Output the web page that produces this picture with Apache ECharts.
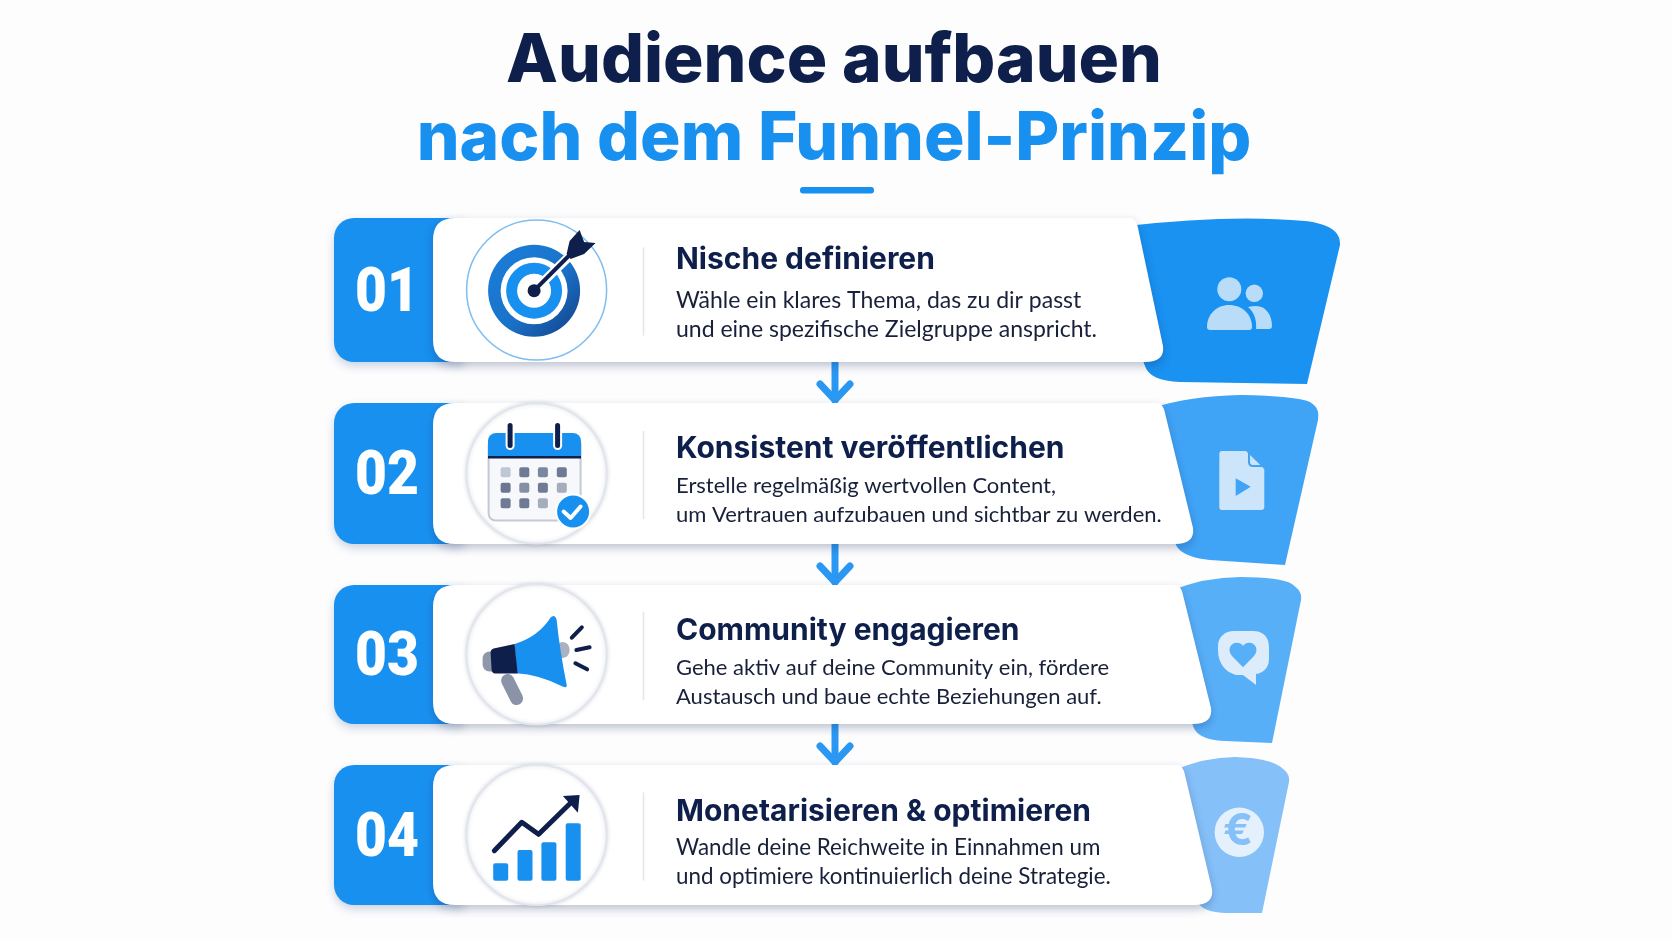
<!DOCTYPE html>
<html>
<head>
<meta charset="UTF-8">
<title>Audience aufbauen</title>
<script src="https://cdn.jsdelivr.net/npm/echarts@6/dist/echarts.min.js"></script>
<style>
html, body { margin: 0; padding: 0; background: #fdfdfe; }
#main { width: 1672px; height: 941px; }
</style>
</head>
<body>
<div id="main"></div>
<script>
// content
var titleLine1 = 'Audience aufbauen';
var titleLine2 = 'nach dem Funnel-Prinzip';
var stepNumbers = ['01', '02', '03', '04'];
var stepTitles = ['Nische definieren', 'Konsistent veröffentlichen', 'Community engagieren', 'Monetarisieren & optimieren'];
var stepLine1 = [
  'Wähle ein klares Thema, das zu dir passt',
  'Erstelle regelmäßig wertvollen Content,',
  'Gehe aktiv auf deine Community ein, fördere',
  'Wandle deine Reichweite in Einnahmen um'
];
var stepLine2 = [
  'und eine spezifische Zielgruppe anspricht.',
  'um Vertrauen aufzubauen und sichtbar zu werden.',
  'Austausch und baue echte Beziehungen auf.',
  'und optimiere kontinuierlich deine Strategie.'
];

// layout of the four rows, in page pixels
var BLUE = '#1890f0', NAVY = '#0e1f4b', GREY = '#8a93a8';
var rowTop = [218, 403, 585, 765];
var rowBottom = [362, 544, 724, 905];
var cardTopRight = [1130, 1157, 1175, 1177];
var cardBottomRight = [1163, 1193, 1211, 1212];
var titleY = [260, 449, 631, 812];
var bodyY = [301, 486, 668, 848];
var bodyFont = [23, 22, 22, 22.4];
var funnelColor = ['#1992f2', '#3fa3f6', '#57aff8', '#85c0f9'];
var funnelPath = [
  'M1127,226 Q1230,214 1305,221 C1330,224 1341,232 1340,245 L1307,384 L1180,382 C1160,381 1148,376 1145,366 L1120,300 Z',
  'M1152,408 Q1190,396 1240,395 Q1296,396 1310,402 C1318,407 1319,412 1318,420 L1285,565 L1210,560 C1190,558 1177,552 1175,542 L1150,480 Z',
  'M1170,591 Q1205,577 1240,577 Q1280,577 1292,584 C1300,590 1302,594 1301,600 L1272,743 L1225,741 C1205,740 1194,735 1192,722 L1160,650 Z',
  'M1172,771 Q1205,757 1235,757 Q1270,758 1282,768 C1287,772 1290,776 1289,782 L1262,913 L1225,913 C1215,912 1205,912 1198,903 L1160,830 Z'
];

function cardPath(i) {
  var t = rowTop[i], b = rowBottom[i], tr = cardTopRight[i], br = cardBottomRight[i];
  return 'M455,' + t + ' L' + tr + ',' + t + ' Q' + (tr + 6) + ',' + t + ' ' + (tr + 8) + ',' + (t + 10) +
    ' L' + br + ',' + (b - 16) + ' Q' + (br + 2) + ',' + b + ' ' + (br - 18) + ',' + b +
    ' L455,' + b + ' Q433,' + b + ' 433,' + (b - 22) + ' L433,' + (t + 22) + ' Q433,' + t + ' 455,' + t + ' Z';
}

function line(x1, y1, x2, y2, color, w) {
  return { type: 'line', shape: { x1: x1, y1: y1, x2: x2, y2: y2 }, style: { stroke: color, lineWidth: w, lineCap: 'round' } };
}
function rect(x, y, w, h, r, color) {
  return { type: 'rect', shape: { x: x, y: y, width: w, height: h, r: r }, style: { fill: color } };
}
function circle(cx, cy, r, color) {
  return { type: 'circle', shape: { cx: cx, cy: cy, r: r }, style: { fill: color } };
}
function poly(points, color) {
  return { type: 'polygon', shape: { points: points }, style: { fill: color } };
}

// icons inside the white circles, relative to circle centre
function targetIcon() {
  var cx = -2.5, cy = 0.7;
  return [
    { type: 'ring', shape: { cx: cx, cy: cy, r: 46, r0: 33.5 }, style: {
      fill: { type: 'linear', x: 0, y: 0, x2: 1, y2: 1, colorStops: [{ offset: 0, color: '#1a7fdc' }, { offset: 0.55, color: '#1a72c8' }, { offset: 1, color: '#123f86' }] }
    } },
    { type: 'ring', shape: { cx: cx, cy: cy, r: 28, r0: 17 }, style: { fill: BLUE } },
    line(cx, cy, 36, -37, '#fff', 9),
    line(cx, cy, 38, -40, NAVY, 4),
    circle(cx, cy, 6.5, NAVY),
    poly([[33, -49], [43, -60], [47.5, -48], [59, -47], [47.5, -36], [34, -31], [30, -36]], NAVY)
  ];
}

function calendarIcon() {
  var cols = [-31, -12.3, 6.3, 25.2], rows = [-1.2, 14.2, 29.8];
  var colors = [
    ['#bfc6d4', '#6f7a95', '#7a87a0', '#6f7a95'],
    ['#6b7690', '#858fa6', '#6f7a95', '#a5adbd'],
    ['#6f7a95', '#6f7a95', '#a5adbd', null]
  ];
  var out = [
    { type: 'rect', shape: { x: -48, y: -30, width: 92, height: 77, r: [0, 0, 7, 7] }, style: { fill: '#f7f8fb', stroke: '#c4c9d4', lineWidth: 2 } },
    rect(-48.6, -40.5, 93, 24, [8, 8, 0, 0], BLUE),
    rect(-48.6, -17.5, 93, 2.5, 0, NAVY),
    line(-26.5, -48, -26.5, -28, '#fff', 9),
    line(21, -48, 21, -28, '#fff', 9),
    line(-26.5, -48, -26.5, -28, NAVY, 5),
    line(21, -48, 21, -28, NAVY, 5)
  ];
  rows.forEach(function (y, r) {
    cols.forEach(function (x, c) {
      if (colors[r][c]) out.push(rect(x - 5, y - 5, 10, 10, 2, colors[r][c]));
    });
  });
  out.push({ type: 'circle', shape: { cx: 36.5, cy: 38, r: 17 }, style: { fill: BLUE, stroke: '#fff', lineWidth: 2 } });
  out.push({ type: 'polyline', shape: { points: [[27, 38], [34, 44.5], [44, 33]] }, style: { stroke: '#fff', fill: null, lineWidth: 4, lineCap: 'round', lineJoin: 'round' } });
  return out;
}

function megaphoneIcon() {
  return [
    line(-29, 26, -20, 44, GREY, 13),
    rect(-54, -3, 16, 20, 7, '#8f97aa'),
    { type: 'ellipse', shape: { cx: 26, cy: -4.5, rx: 7, ry: 8 }, style: { fill: '#a9b1c2' } },
    { type: 'path', shape: { pathData: 'M-22,-10.5 Q2,-18 14,-37 Q18,-41 20,-35 Q23,-5 30,30 Q31,34 26,32 Q2,20 -20,18.8 Z' }, style: { fill: BLUE } },
    { type: 'path', shape: { pathData: 'M-46,-2 Q-46,-5 -43,-6 L-22,-10.5 L-19,19 L-42,19 Q-45,18 -45,15 Z' }, style: { fill: NAVY } },
    line(35.2, -16.8, 45.2, -27.2, NAVY, 4),
    line(39.8, -4.5, 53, -7.2, NAVY, 4),
    line(38.8, 8.8, 50.5, 14.8, NAVY, 4)
  ];
}

function growthIcon() {
  return [
    rect(-43.4, 28.3, 15, 17.4, 2, BLUE),
    rect(-19.1, 15, 15, 30.7, 2, BLUE),
    rect(4.8, 7.3, 15, 38.4, 2, BLUE),
    rect(29.1, -11.7, 15, 57.4, 2, BLUE),
    { type: 'polyline', shape: { points: [[-42.3, 15.7], [-14.8, -12.7], [2, -0.7], [35, -33]] }, style: { stroke: NAVY, fill: null, lineWidth: 5, lineCap: 'round', lineJoin: 'round' } },
    poly([[26.3, -39], [43, -40], [41.3, -22.3]], NAVY)
  ];
}

// white glyphs on the funnel pieces, absolute page pixels
function usersIcon() {
  var c = '#b9dcf9';
  return [
    circle(1229.3, 289.3, 12, c),
    circle(1254.3, 293.3, 8.7, c),
    { type: 'path', shape: { pathData: 'M1207,327 C1207,314 1217,305 1229,305 C1242,305 1252,314 1252,327 Q1252,330 1249,330 L1210,330 Q1207,330 1207,327 Z' }, style: { fill: c } },
    { type: 'path', shape: { pathData: 'M1248,307 Q1252,306 1256,306 C1266,306 1272,315 1272,326 Q1272,329 1269,329 L1256,329 C1257,320 1254,312 1248,307 Z' }, style: { fill: c } }
  ];
}
function fileIcon() {
  var c = '#cde5fb';
  return [
    { type: 'path', shape: { pathData: 'M1222,451 L1246,451 L1264.3,469 L1264.3,507 Q1264.3,510 1261,510 L1222,510 Q1219.3,510 1219.3,507 L1219.3,454 Q1219.3,451 1222,451 Z' }, style: { fill: c } },
    { type: 'path', shape: { pathData: 'M1249,451 L1249,462 Q1249,466 1253,466 L1264,466' }, style: { stroke: funnelColor[1], fill: null, lineWidth: 2 } },
    poly([[1235.7, 478.3], [1250.7, 486.7], [1235.7, 496]], funnelColor[1])
  ];
}
function heartIcon() {
  var c = '#dcecfb';
  return [
    { type: 'path', shape: { pathData: 'M1234,631 L1253,631 C1263,631 1269,637 1269,647 L1269,659 C1269,668 1263,673 1256,674 L1256,685 L1243,675 L1236,675 C1225,672 1218,663 1218,650 L1218,646 C1218,637 1225,631 1234,631 Z' }, style: { fill: c } },
    { type: 'path', shape: { pathData: 'M1243,667.3 L1232,656 C1227,650 1230,642.7 1237,642.7 C1240,642.7 1242,644 1243,646 C1244,644 1246,642.7 1249,642.7 C1256,642.7 1259,650 1254,656 Z' }, style: { fill: funnelColor[2] } }
  ];
}
function euroIcon() {
  return [
    circle(1239.3, 832.3, 24.7, '#e4f1fc'),
    { type: 'text', style: { text: '€', x: 1238, y: 832, align: 'center', verticalAlign: 'middle', fontFamily: 'Inter', fontWeight: 700, fontSize: 44, fill: funnelColor[3] } }
  ];
}
var circleIcons = [targetIcon, calendarIcon, megaphoneIcon, growthIcon];
var funnelIcons = [usersIcon, fileIcon, heartIcon, euroIcon];

function renderRow(params) {
  var i = params.dataIndex;
  var top = rowTop[i], bottom = rowBottom[i], mid = (top + bottom) / 2;
  var kids = [];

  // funnel piece sits behind the card
  kids.push({ type: 'path', shape: { pathData: funnelPath[i] }, style: { fill: funnelColor[i] } });
  kids = kids.concat(funnelIcons[i]());

  // arrow to the next row
  if (i < 3) {
    var tip = rowTop[i + 1] - 3;
    kids.push(line(835, bottom, 835, tip, '#2a98f3', 7));
    kids.push({ type: 'polyline', shape: { points: [[820, tip - 16], [835, tip], [850, tip - 16]] }, style: { stroke: '#2a98f3', fill: null, lineWidth: 7, lineCap: 'round', lineJoin: 'round' } });
  }

  // number tab + white card
  kids.push({ type: 'rect', shape: { x: 334, y: top, width: 130, height: bottom - top, r: [20, 0, 0, 20] }, style: { fill: BLUE, shadowBlur: 10, shadowOffsetY: 4, shadowColor: 'rgba(20,60,120,0.22)' } });
  kids.push({ type: 'path', shape: { pathData: cardPath(i) }, style: { fill: '#fff', shadowBlur: 10, shadowOffsetY: 4, shadowColor: 'rgba(20,40,90,0.28)' } });
  kids.push({ type: 'text', x: 387, y: mid + 5, scaleX: 0.89, style: { text: stepNumbers[i], x: 0, y: 0, align: 'center', verticalAlign: 'middle', fontFamily: 'Roboto', fontWeight: 900, fontSize: 62, fill: '#fff' } });

  // circle with icon
  kids.push({ type: 'circle', shape: { cx: 536.6, cy: mid, r: 70 }, style: { fill: '#fff', stroke: i === 0 ? '#7fbdee' : '#e2e5ec', lineWidth: i === 0 ? 1.5 : 2, shadowBlur: i === 0 ? 0 : 4, shadowColor: 'rgba(20,40,90,0.15)' } });
  kids.push({ type: 'group', x: 536.6, y: mid, children: circleIcons[i]() });

  kids.push(line(643.5, mid - 42, 643.5, mid + 45, '#dfe5ec', 1.5));

  kids.push({ type: 'text', style: { text: stepTitles[i], x: 676, y: titleY[i], verticalAlign: 'middle', fontFamily: 'Inter', fontWeight: 700, fontSize: 30, fill: NAVY } });
  kids.push({ type: 'text', style: { text: stepLine1[i], x: 676, y: bodyY[i], verticalAlign: 'middle', fontFamily: 'Lato', fontSize: bodyFont[i], fill: '#18203a' } });
  kids.push({ type: 'text', style: { text: stepLine2[i], x: 676, y: bodyY[i] + 28.5, verticalAlign: 'middle', fontFamily: 'Lato', fontSize: bodyFont[i], fill: '#18203a' } });

  return { type: 'group', children: kids };
}

var chart = echarts.init(document.getElementById('main'));
chart.setOption({
  backgroundColor: '#fdfdfe',
  animation: false,
  title: [
    { text: titleLine1, left: 829, top: 23, textAlign: 'center', textStyle: { fontFamily: 'Inter', fontWeight: 800, fontSize: 67.5, color: NAVY } },
    { text: titleLine2, left: 829, top: 101, textAlign: 'center', textStyle: { fontFamily: 'Inter', fontWeight: 800, fontSize: 67.5, color: BLUE } }
  ],
  graphic: [{ type: 'rect', shape: { x: 800, y: 187, width: 74, height: 6.5, r: 3 }, style: { fill: BLUE } }],
  series: [{
    type: 'custom',
    coordinateSystem: 'none',
    silent: true,
    data: stepNumbers.map(function (n, i) { return [i]; }),
    renderItem: renderRow
  }]
});
</script>
</body>
</html>
